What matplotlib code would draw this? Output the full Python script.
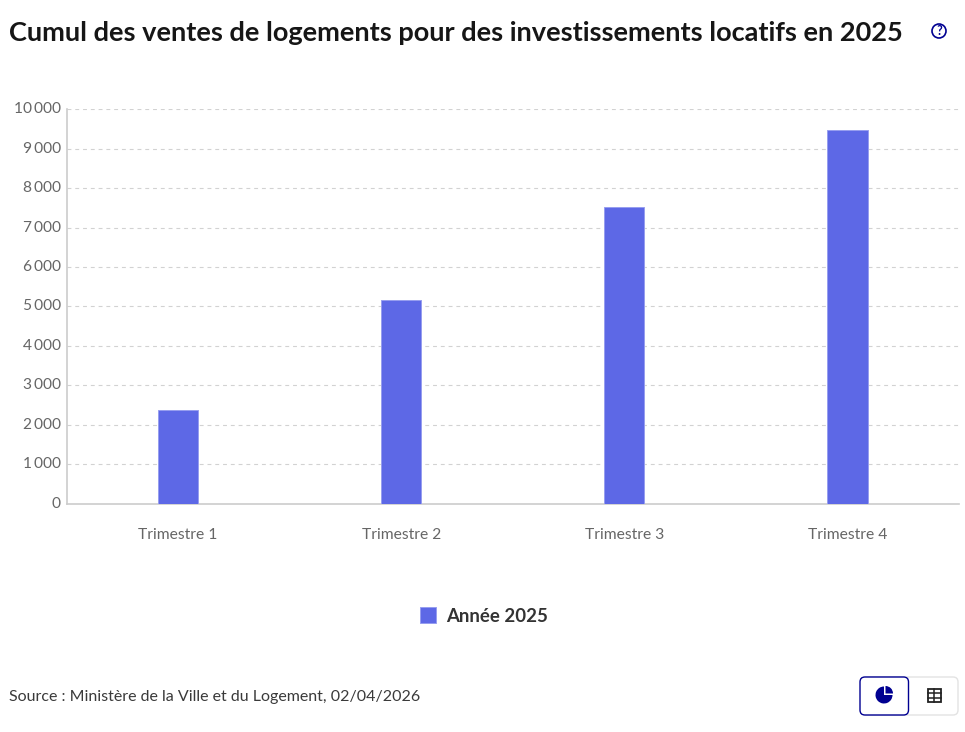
import matplotlib
matplotlib.use("Agg")
import matplotlib.pyplot as plt
from matplotlib.patches import Circle, FancyBboxPatch, Rectangle, Wedge

quarters = ["Trimestre 1", "Trimestre 2", "Trimestre 3", "Trimestre 4"]
sales_2025 = [2370, 5165, 7525, 9480]
y_ticks = [0, 1000, 2000, 3000, 4000, 5000, 6000, 7000, 8000, 9000, 10000]
y_tick_labels = ["0", "1\u2009000", "2\u2009000", "3\u2009000", "4\u2009000", "5\u2009000",
                 "6\u2009000", "7\u2009000", "8\u2009000", "9\u2009000", "10\u2009000"]

W, H = 965, 732
BAR_COLOR = "#5d68e6"
NAVY = "#000091"

plt.rcParams["font.family"] = ["Lato", "DejaVu Sans"]

fig = plt.figure(figsize=(W / 100, H / 100), dpi=100)

# main axes, placed in pixel terms
left, right, top, bottom = 66.5, 959, 109.5, 503.5
ax = fig.add_axes([left / W, 1 - bottom / H, (right - left) / W, (bottom - top) / H])
ax.set_xlim(-0.5, 3.5)
ax.set_ylim(0, 10000)

ax.bar(range(4), sales_2025, width=0.18, color=BAR_COLOR, edgecolor="#979eef", linewidth=0.7,
       label="Année 2025", zorder=3)
ax.grid(axis="y", color="#d2d2d2", linestyle=(0, (3.5, 3.5)), linewidth=0.8, zorder=0)
ax.set_axisbelow(True)

for s in ["top", "right"]:
    ax.spines[s].set_visible(False)
for s in ["left", "bottom"]:
    ax.spines[s].set_color("#cccccc")
    ax.spines[s].set_linewidth(1.2)

ax.set_yticks(y_ticks)
ax.set_yticklabels(y_tick_labels, fontsize=11.2, color="#666666", va="center")
ax.tick_params(axis="y", length=0, pad=4)
ax.set_xticks(range(4))
ax.set_xticklabels(quarters, fontsize=11.25, color="#666666")
ax.tick_params(axis="x", length=0, pad=17.3)

leg = fig.legend(loc="center", bbox_to_anchor=(484 / W, 1 - 616 / H), frameon=False,
                 handlelength=0.86, handleheight=0.95, handletextpad=0.54,
                 prop={"size": 13.4, "weight": "bold"}, labelcolor="#333333")

fig.text(9 / W, 1 - 33 / H, "Cumul des ventes de logements pour des investissements locatifs en 2025",
         fontsize=19.5, fontweight="bold", color="#161616", va="center", ha="left")
fig.text(9 / W, 1 - 697 / H, "Source : Ministère de la Ville et du Logement, 02/04/2026",
         fontsize=11.5, color="#3a3a3a", va="center", ha="left")

# overlay in pixel coordinates for the interface icons
ui = fig.add_axes([0, 0, 1, 1], facecolor="none")
ui.set_xlim(0, W)
ui.set_ylim(H, 0)
ui.set_aspect("equal")
ui.axis("off")

# help icon
ui.add_patch(Circle((939, 31), 7, fill=False, edgecolor=NAVY, linewidth=1.2))
ui.text(939, 31, "?", fontsize=9, fontweight="bold", color=NAVY, ha="center", va="center")

# view switch: chart / table buttons
ui.add_patch(FancyBboxPatch((862, 677), 96, 38, boxstyle="round,pad=0,rounding_size=5",
                            facecolor="white", edgecolor="#e3e3e3", linewidth=1.0))
ui.add_patch(FancyBboxPatch((860, 677), 48.5, 38, boxstyle="round,pad=0,rounding_size=5",
                            facecolor="white", edgecolor=NAVY, linewidth=1.0))
ui.add_patch(Wedge((884, 695), 8.5, 0, 270, facecolor=NAVY, edgecolor="none"))
ui.add_patch(Wedge((885.5, 693.5), 7.5, 270, 360, facecolor=NAVY, edgecolor="none"))

# table glyph
ui.add_patch(Rectangle((927.5, 689), 13, 13, fill=False, edgecolor="#222222", linewidth=1.3))
ui.plot([927.5, 940.5], [693.3, 693.3], color="#222222", linewidth=1.1)
ui.plot([927.5, 940.5], [697.6, 697.6], color="#222222", linewidth=1.1)
ui.plot([934, 934], [689, 702], color="#222222", linewidth=1.1)

fig.savefig("out.png", dpi=100)
